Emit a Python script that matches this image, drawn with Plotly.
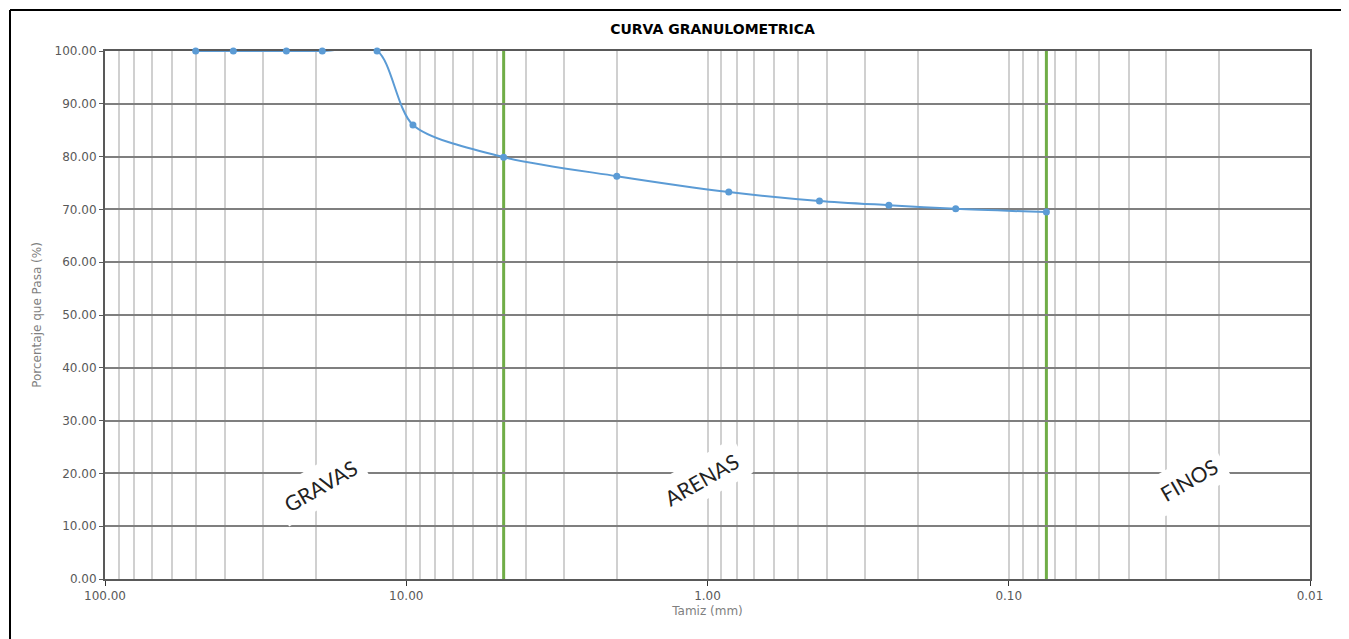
import math
import plotly.graph_objects as go

# Data
sieve_mm = [50.0, 37.5, 25.0, 19.0, 12.5, 9.5, 4.75, 2.0, 0.85, 0.425, 0.25, 0.15, 0.075]
percent_passing = [100.0, 100.0, 100.0, 100.0, 100.0, 86.0, 79.9, 76.3, 73.3, 71.6, 70.8, 70.1, 69.5]
x_tick_vals = [100, 10, 1, 0.1, 0.01]
x_tick_text = ["100.00", "10.00", "1.00", "0.10", "0.01"]
boundaries_mm = [4.75, 0.075]
zone_labels = ["GRAVAS", "ARENAS", "FINOS"]
zone_x = [19.3, 1.05, 0.0252]
zone_y = [17.8, 18.8, 18.8]

minor_vals = []
for d in [0.01, 0.1, 1, 10]:
    for k in range(1, 10):
        v = round(k * d, 6)
        if v not in x_tick_vals:
            minor_vals.append(v)
minor_vals += [10, 1, 0.1]

FONT = "DejaVu Sans"
LFONT = "Lato"

# layout geometry (figure px; page has 8px body margin)
W, H = 1349, 639
ML, MT, PW, PH = 97, 43, 1205, 528

fig = go.Figure()
fig.add_trace(go.Scatter(
    x=sieve_mm, y=percent_passing, mode="lines+markers",
    line=dict(color="#5b9bd5", width=2, shape="spline", smoothing=0.8),
    marker=dict(color="#5b9bd5", size=7),
    cliponaxis=False,
    showlegend=False,
))

for b in boundaries_mm:
    fig.add_shape(type="line", xref="x", yref="paper", x0=b, x1=b, y0=0, y1=1,
                  line=dict(color="#70ad47", width=3), layer="between")

for t, xv, yv in zip(zone_labels, zone_x, zone_y):
    fig.add_annotation(x=math.log10(xv), y=yv, xref="x", yref="y", text=t, showarrow=False,
                       textangle=-30, font=dict(family=LFONT, size=21, color="#222222"),
                       bgcolor="white", borderpad=7)

# outer frame (top and left edges visible)
fx0 = (2 - ML) / PW
fx1 = (1500 - ML) / PW
fy_top = (MT + PH - 2) / PH
fy_bot = (MT + PH - 700) / PH
fig.add_shape(type="line", xref="paper", yref="paper", x0=fx0, x1=fx1, y0=fy_top, y1=fy_top,
              line=dict(color="black", width=2), layer="above")
fig.add_shape(type="line", xref="paper", yref="paper", x0=fx0, x1=fx0, y0=fy_bot, y1=fy_top,
              line=dict(color="black", width=2), layer="above")

fig.update_layout(
    width=W, height=H,
    margin=dict(l=ML, r=W - ML - PW, t=MT, b=H - MT - PH),
    paper_bgcolor="white", plot_bgcolor="white",
    title=dict(text="<b>CURVA GRANULOMETRICA</b>", x=(704.5) / W, xanchor="center",
               y=1 - 21 / H, yanchor="middle",
               font=dict(family=FONT, size=14, color="#000000")),
    font=dict(family=FONT),
)

fig.update_xaxes(
    type="log", range=[2, -2],
    tickmode="array", tickvals=x_tick_vals, ticktext=x_tick_text,
    ticks="outside", ticklen=5, tickcolor="#333333", tickwidth=1,
    showgrid=False,
    minor=dict(tickmode="array", tickvals=minor_vals, showgrid=True,
               gridcolor="#d0d0d0", gridwidth=1.5, ticks=""),
    showline=True, mirror=True, linecolor="#595959", linewidth=2,
    layer="below traces",
    tickfont=dict(family=FONT, size=12, color="#595959"),
    title=dict(text="Tamiz (mm)", font=dict(family=FONT, size=12, color="#7f7f7f"), standoff=4),
    zeroline=False,
)
fig.update_yaxes(
    range=[0, 100], dtick=10, tickformat=".2f",
    ticks="outside", ticklen=4, tickcolor="#595959",
    showgrid=True, gridcolor="#7f7f7f", gridwidth=1.5,
    showline=True, mirror=True, linecolor="#595959", linewidth=2,
    layer="below traces",
    tickfont=dict(family=FONT, size=12, color="#595959"),
    title=dict(text="Porcentaje que Pasa (%)", font=dict(family=FONT, size=12, color="#7f7f7f"), standoff=10),
    zeroline=False,
)

fig.write_html("out.html", post_script="document.body.style.overflow='hidden';")
